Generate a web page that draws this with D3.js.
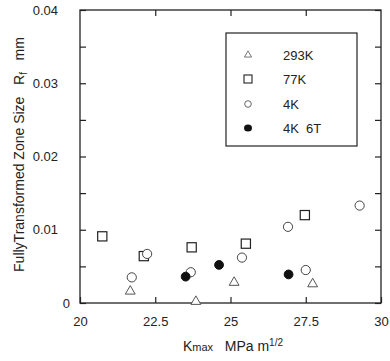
<!DOCTYPE html>
<html>
<head>
<meta charset="utf-8">
<script src="https://cdn.jsdelivr.net/npm/d3@7"></script>
<style>
  body { margin: 0; background: #fff; }
  svg text { font-family: "Liberation Sans", Arial, sans-serif; fill: #222; }
</style>
</head>
<body>
<div id="chart"></div>
<script>
// Data
var k293 = [21.67, 23.85, 25.12, 27.73];
var r293 = [0.0016, 0.0002, 0.0028, 0.0026];

var k77 = [20.74, 22.12, 23.71, 25.51, 27.47];
var r77 = [0.0091, 0.0064, 0.0076, 0.0081, 0.0120];

var k4 = [21.72, 22.23, 23.68, 25.38, 26.91, 27.50, 29.29];
var r4 = [0.0035, 0.0067, 0.0042, 0.0062, 0.0104, 0.0045, 0.0133];

var k4t = [23.51, 24.62, 26.93];
var r4t = [0.0036, 0.0052, 0.0039];

var xTicks = [20, 22.5, 25, 27.5, 30];
var yTicks = [0, 0.01, 0.02, 0.03, 0.04];
var yMinor = [0.005, 0.015, 0.025, 0.035];
var legendLabels = ["293K", "77K", "4K", "4K  6T"];

var margin = { top: 10, right: 9, bottom: 58, left: 80 },
  width = 390 - margin.left - margin.right,
  height = 361 - margin.top - margin.bottom;

var svg = d3.select("#chart")
  .append("svg")
  .attr("width", 390)
  .attr("height", 361)
  .append("g")
  .attr("transform", "translate(" + margin.left + "," + margin.top + ")");

var x = d3.scaleLinear().domain([20, 30]).range([0, width]);
var y = d3.scaleLinear().domain([0, 0.04]).range([height, 0]);

var ink = "#222";

// frame
svg.append("rect")
  .attr("width", width).attr("height", height)
  .attr("fill", "none").attr("stroke", ink).attr("stroke-width", 1.3);

// bottom axis (labels)
var xb = svg.append("g")
  .attr("transform", "translate(0," + height + ")")
  .call(d3.axisBottom(x).tickValues(xTicks).tickSizeInner(-6).tickSizeOuter(0).tickPadding(14)
    .tickFormat(function (d) { return d; }));
// top axis (ticks only)
var xt = svg.append("g")
  .call(d3.axisTop(x).tickValues([22.5, 25, 27.5]).tickSizeInner(-6).tickSizeOuter(0).tickFormat(""));
// left axis
var yl = svg.append("g")
  .call(d3.axisLeft(y).tickValues(yTicks.concat(yMinor)).tickSizeInner(-6).tickSizeOuter(0).tickPadding(22)
    .tickFormat(function (d) { return yTicks.indexOf(d) >= 0 ? (d === 0 ? "0" : d3.format(".2f")(d)) : ""; }));
// right axis
var yr = svg.append("g")
  .attr("transform", "translate(" + width + ",0)")
  .call(d3.axisRight(y).tickValues(yTicks.concat(yMinor)).tickSizeInner(-6).tickSizeOuter(0).tickFormat(""));

[xb, xt, yl, yr].forEach(function (g) {
  g.select(".domain").remove();
  g.selectAll("line").attr("stroke", ink).attr("stroke-width", 1.2);
  g.selectAll("text").style("font-size", "13px").attr("fill", ink)
    .style("font-family", "Liberation Sans, Arial, sans-serif");
});
// zero label sits closer to the axis in the original
yl.selectAll(".tick text").filter(function (d) { return d === 0; }).attr("x", -10);

// markers
svg.selectAll(".t293").data(k293).enter().append("path")
  .attr("class", "t293")
  .attr("transform", function (d, i) { return "translate(" + x(d) + "," + y(r293[i]) + ")"; })
  .attr("d", d3.symbol().type(d3.symbolTriangle).size(42))
  .attr("fill", "#fff").attr("stroke", "#555").attr("stroke-width", 1);

svg.selectAll(".s77").data(k77).enter().append("rect")
  .attr("class", "s77")
  .attr("x", function (d) { return x(d) - 4.6; })
  .attr("y", function (d, i) { return y(r77[i]) - 4.6; })
  .attr("width", 9.2).attr("height", 9.2)
  .attr("fill", "#fff").attr("stroke", ink).attr("stroke-width", 1.2);

svg.selectAll(".c4").data(k4).enter().append("circle")
  .attr("class", "c4")
  .attr("cx", function (d) { return x(d); })
  .attr("cy", function (d, i) { return y(r4[i]); })
  .attr("r", 4.6)
  .attr("fill", "#fff").attr("stroke", "#444").attr("stroke-width", 1);

svg.selectAll(".f4").data(k4t).enter().append("circle")
  .attr("class", "f4")
  .attr("cx", function (d) { return x(d); })
  .attr("cy", function (d, i) { return y(r4t[i]); })
  .attr("r", 4.4)
  .attr("fill", "#111").attr("stroke", "#111");

// legend
var lg = svg.append("g").attr("transform", "translate(" + (226 - margin.left) + "," + (33 - margin.top) + ")");
lg.append("rect").attr("width", 131).attr("height", 113)
  .attr("fill", "#fff").attr("stroke", ink).attr("stroke-width", 1.2);
var rowY = [22, 46, 71, 95];
var symX = 22;
lg.append("path").attr("transform", "translate(" + symX + "," + rowY[0] + ")")
  .attr("d", d3.symbol().type(d3.symbolTriangle).size(22))
  .attr("fill", "none").attr("stroke", "#666").attr("stroke-width", 0.9);
lg.append("rect").attr("x", symX - 4).attr("y", rowY[1] - 4).attr("width", 8).attr("height", 8)
  .attr("fill", "none").attr("stroke", ink).attr("stroke-width", 1.1);
lg.append("circle").attr("cx", symX).attr("cy", rowY[2]).attr("r", 3.3)
  .attr("fill", "none").attr("stroke", "#555").attr("stroke-width", 0.9);
lg.append("ellipse").attr("cx", symX).attr("cy", rowY[3]).attr("rx", 4).attr("ry", 3.6)
  .attr("fill", "#111");
lg.selectAll(".lt").data(legendLabels).enter().append("text")
  .attr("class", "lt")
  .attr("x", 57)
  .attr("y", function (d, i) { return rowY[i] + 4.5; })
  .style("font-size", "13px")
  .style("white-space", "pre")
  .attr("xml:space", "preserve")
  .text(function (d) { return d; });

// x title
var xtitle = svg.append("text")
  .attr("x", 153).attr("y", 341)
  .attr("text-anchor", "middle")
  .attr("xml:space", "preserve")
  .style("font-size", "14px");
xtitle.append("tspan").text("K");
xtitle.append("tspan").style("font-size", "11px").text("max");
xtitle.append("tspan").text("   MPa m");
xtitle.append("tspan").style("font-size", "10px").attr("dy", -5).text("1/2");

// y title
var ytitle = svg.append("text")
  .attr("transform", "translate(" + (-56) + "," + (height / 2 - 2) + ") rotate(-90)")
  .attr("text-anchor", "middle")
  .attr("xml:space", "preserve")
  .style("font-size", "14px");
ytitle.append("tspan").text("FullyTransformed Zone Size   R");
ytitle.append("tspan").style("font-size", "10px").attr("dy", 3).text("f");
ytitle.append("tspan").attr("dy", -3).text("   mm");
</script>
</body>
</html>
